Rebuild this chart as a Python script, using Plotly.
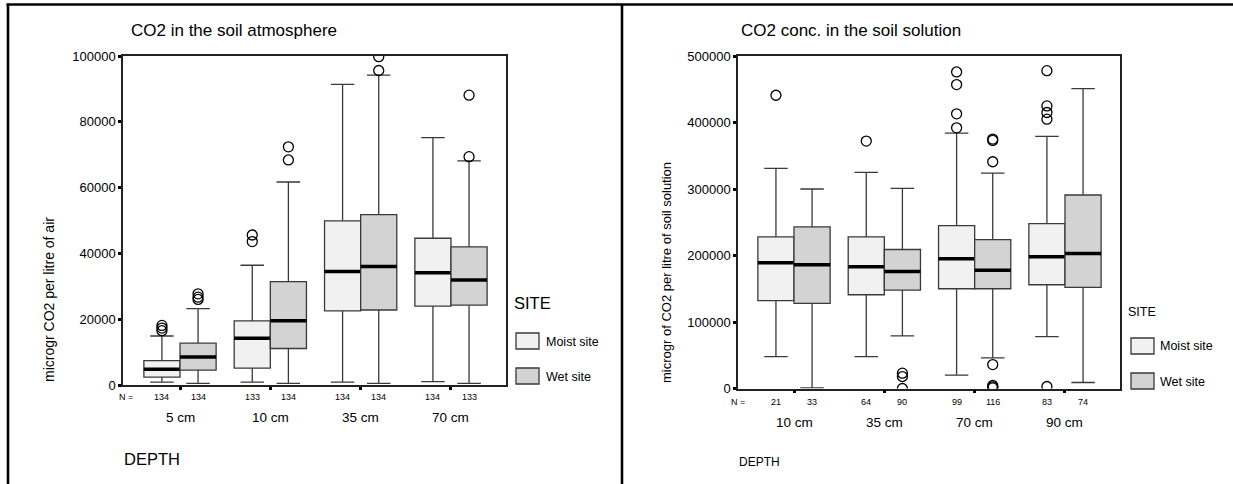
import plotly.graph_objects as go

W, H = 1233, 484

# ---------------- data: left chart (soil atmosphere) ----------------
left_depths = ["5 cm", "10 cm", "35 cm", "70 cm"]
left_n_moist = [134, 133, 134, 134]
left_n_wet = [134, 134, 134, 133]
left_moist_low = [900, 900, 900, 1000]
left_moist_q1 = [2400, 5100, 22500, 24000]
left_moist_med = [4800, 14200, 34500, 34100]
left_moist_q3 = [7400, 19500, 49900, 44600]
left_moist_high = [14900, 36400, 91400, 75200]
left_moist_out = [[16500, 17300, 18100], [43600, 45600], [], []]
left_wet_low = [500, 500, 500, 500]
left_wet_q1 = [4500, 11100, 22800, 24300]
left_wet_med = [8500, 19500, 36000, 31900]
left_wet_q3 = [12700, 31400, 51800, 42000]
left_wet_high = [23200, 61700, 94200, 68100]
left_wet_out = [[26000, 26700, 27700], [68400, 72400], [95600, 99800], [69400, 88100]]

# ---------------- data: right chart (soil solution) ----------------
right_depths = ["10 cm", "35 cm", "70 cm", "90 cm"]
right_n_moist = [21, 64, 99, 83]
right_n_wet = [33, 90, 116, 74]
right_moist_low = [48000, 48000, 20000, 78000]
right_moist_q1 = [132000, 141000, 150000, 156000]
right_moist_med = [189000, 183000, 195000, 198000]
right_moist_q3 = [228000, 228000, 245000, 248000]
right_moist_high = [331000, 325000, 384000, 379000]
right_moist_out = [[441000], [372000], [392000, 413000, 457000, 476000],
                   [3000, 405000, 415000, 425000, 478000]]
right_wet_low = [1000, 79000, 46000, 9000]
right_wet_q1 = [128000, 148000, 150000, 152000]
right_wet_med = [186000, 176000, 178000, 203000]
right_wet_q3 = [243000, 209000, 224000, 291000]
right_wet_high = [300000, 301000, 324000, 451000]
right_wet_out = [[], [0, 18000, 23000], [1000, 2500, 4500, 36000, 341000, 373000, 375000], []]

site_names = ["Moist site", "Wet site"]
left_yticks = [0, 20000, 40000, 60000, 80000, 100000]
right_yticks = [0, 100000, 200000, 300000, 400000, 500000]

# ---------------- styling ----------------
FONT = "Liberation Sans, Arial, sans-serif"
MOIST_FILL = "#f1f1f1"
WET_FILL = "#d3d3d3"
BOX_LINE = "#3a3a3a"
OFF = 0.2
BW = 0.4


def px(x):
    return x / W


def py(y):
    return 1 - y / H


fig = go.Figure()


def add_chart(xa, ya, moist, wet):
    for (low, q1, med, q3, high, outs), fill, sign in (
        (moist, MOIST_FILL, -1), (wet, WET_FILL, 1)
    ):
        pos = [i + sign * OFF for i in range(len(q1))]
        fig.add_trace(go.Box(
            x=pos, q1=q1, median=med, q3=q3, lowerfence=low, upperfence=high,
            width=BW, whiskerwidth=0.65, fillcolor=fill,
            line=dict(color=BOX_LINE, width=1.3), boxpoints=False,
            xaxis=xa, yaxis=ya, showlegend=False, hoverinfo="skip"))
        fig.add_trace(go.Box(
            x=pos, q1=med, median=med, q3=med, lowerfence=med, upperfence=med,
            width=BW, whiskerwidth=0, fillcolor="rgba(0,0,0,0)",
            line=dict(color="black", width=3.5), boxpoints=False,
            xaxis=xa, yaxis=ya, showlegend=False, hoverinfo="skip"))
        ox, oy = [], []
        for p, lst in zip(pos, outs):
            for v in lst:
                ox.append(p)
                oy.append(v)
        fig.add_trace(go.Scatter(
            x=ox, y=oy, mode="markers", xaxis=xa, yaxis=ya,
            marker=dict(symbol="circle-open", size=10, color="black",
                        line=dict(width=1.3)),
            showlegend=False, hoverinfo="skip"))


add_chart("x", "y",
          (left_moist_low, left_moist_q1, left_moist_med, left_moist_q3, left_moist_high, left_moist_out),
          (left_wet_low, left_wet_q1, left_wet_med, left_wet_q3, left_wet_high, left_wet_out))
add_chart("x2", "y2",
          (right_moist_low, right_moist_q1, right_moist_med, right_moist_q3, right_moist_high, right_moist_out),
          (right_wet_low, right_wet_q1, right_wet_med, right_wet_q3, right_wet_high, right_wet_out))

axis_common = dict(showgrid=False, zeroline=False, showline=True, linecolor="#222",
                   linewidth=1.5, mirror=True, ticks="outside", ticklen=3,
                   tickwidth=3, tickcolor="black", automargin=False,
                   tickfont=dict(family=FONT, size=13, color="black"))

fig.update_layout(
    width=W, height=H, margin=dict(l=0, r=0, t=0, b=0, autoexpand=False),
    paper_bgcolor="white", plot_bgcolor="white", boxmode="overlay",
    xaxis=dict(domain=[px(123), px(506)], range=[-0.631, 3.609],
               tickvals=list(range(len(left_depths))), showticklabels=False,
               anchor="y", **axis_common),
    yaxis=dict(domain=[py(385), py(56)], range=[0, 100000],
               tickvals=left_yticks, tickformat="d", anchor="x", **axis_common),
    xaxis2=dict(domain=[px(738), px(1120)], range=[-0.620, 3.609],
                tickvals=list(range(len(right_depths))), showticklabels=False,
                anchor="y2", **axis_common),
    yaxis2=dict(domain=[py(388.5), py(56)], range=[0, 500000],
                tickvals=right_yticks, tickformat="d", anchor="x2", **axis_common),
)

ann = []


def text(x, y, s, size, xref="paper", xanchor="center", angle=0):
    ann.append(dict(x=x, y=y, xref=xref, yref="paper", text=s, showarrow=False,
                    xanchor=xanchor, yanchor="middle", textangle=angle,
                    font=dict(family=FONT, size=size, color="black")))


# titles
text(px(234), py(31), "CO2 in the soil atmosphere", 17)
text(px(851), py(30), "CO2 conc. in the soil solution", 17)
# y-axis titles
text(px(49), py(300), "microgr CO2 per litre of air", 14, angle=-90)
text(px(666), py(273), "microgr of CO2 per litre of soil solution", 13, angle=-90)
# N labels
text(px(126), py(397), "N =", 9)
text(px(738), py(402), "N =", 9)
for i in range(len(left_depths)):
    text(i - OFF, py(397), str(left_n_moist[i]), 9, xref="x")
    text(i + OFF, py(397), str(left_n_wet[i]), 9, xref="x")
    text(i, py(417), left_depths[i], 13.5, xref="x")
for i in range(len(right_depths)):
    text(i - OFF, py(402), str(right_n_moist[i]), 9, xref="x2")
    text(i + OFF, py(402), str(right_n_wet[i]), 9, xref="x2")
    text(i, py(422), right_depths[i], 13.5, xref="x2")
# DEPTH
text(px(152), py(459), "DEPTH", 16.5)
text(px(759), py(462), "DEPTH", 12)
# legends
text(px(512), py(303), "SITE", 16.5, xanchor="left")
text(px(544), py(342), site_names[0], 12.5, xanchor="left")
text(px(544), py(377), site_names[1], 12.5, xanchor="left")
text(px(1126), py(312), "SITE", 12.5, xanchor="left")
text(px(1158), py(346), site_names[0], 12.5, xanchor="left")
text(px(1158), py(382), site_names[1], 12.5, xanchor="left")
fig.update_layout(annotations=ann)

shapes = []
# legend swatches
for (x0, x1, y0, y1, c) in [
    (516, 539, 333, 349, MOIST_FILL), (516, 539, 368, 384, WET_FILL),
    (1131, 1154, 338, 354, MOIST_FILL), (1131, 1154, 373, 389, WET_FILL)]:
    shapes.append(dict(type="rect", xref="paper", yref="paper",
                       x0=px(x0), x1=px(x1), y0=py(y1), y1=py(y0),
                       fillcolor=c, line=dict(color=BOX_LINE, width=1.3)))
# panel borders
for (x0, y0, x1, y1) in [(6.5, 4.5, 1233, 4.5), (8, 4, 8, 484), (622, 4, 622, 484)]:
    shapes.append(dict(type="line", xref="paper", yref="paper",
                       x0=px(x0), x1=px(x1), y0=py(y0), y1=py(y1),
                       line=dict(color="black", width=2.6)))
fig.update_layout(shapes=shapes)

fig.write_html("out.html")
